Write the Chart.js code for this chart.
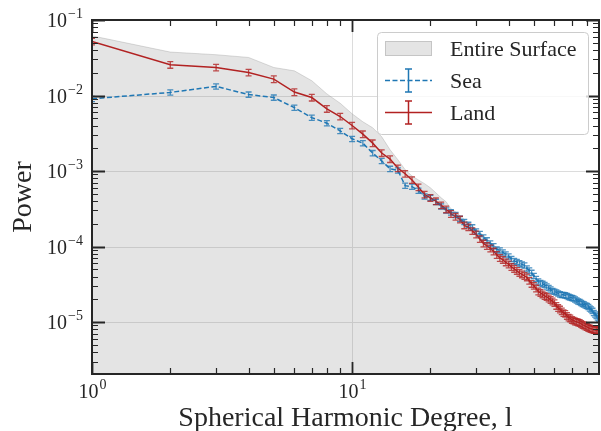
<!DOCTYPE html>
<html>
<head>
<meta charset="utf-8">
<script src="https://cdn.jsdelivr.net/npm/chart.js@4"></script>
<style>
  body { margin: 0; background: #fff; }
  #wrap { width: 601px; height: 431px; }
</style>
</head>
<body>
<div id="wrap"><canvas id="spectrum" width="601" height="431"></canvas></div>
<script>
// spherical harmonic degrees l = 1..89
const degrees = Array.from({ length: 89 }, (_, i) => i + 1);

const landPower = [
    0.0519, 0.0255, 0.0235, 0.0202, 0.0165, 0.0111, 0.0094, 0.00667, 0.00527, 0.00401,
    0.00308, 0.00234, 0.00173, 0.00144, 0.00109, 0.00092, 0.00076, 0.00061, 0.00049,
    4.42e-4, 3.99e-4, 3.53e-4, 3.11e-4, 2.71e-4, 2.49e-4, 2.29e-4, 1.91e-4, 1.80e-4, 1.61e-4,
    1.45e-4, 1.26e-4, 1.10e-4, 1.02e-4, 9.46e-5, 8.63e-5, 7.76e-5, 7.08e-5, 6.67e-5, 6.18e-5,
    5.81e-5, 5.38e-5, 5.07e-5, 4.77e-5, 4.49e-5, 4.29e-5, 4.09e-5, 3.91e-5, 3.52e-5, 3.21e-5,
    3.03e-5, 2.79e-5, 2.55e-5, 2.44e-5, 2.33e-5, 2.22e-5, 2.16e-5, 2.06e-5, 1.97e-5, 1.88e-5,
    1.79e-5, 1.64e-5, 1.54e-5, 1.47e-5, 1.39e-5, 1.32e-5, 1.29e-5, 1.21e-5, 1.15e-5, 1.12e-5,
    1.07e-5, 1.05e-5, 1.02e-5, 1.01e-5, 9.9e-6, 9.75e-6, 9.46e-6, 9.18e-6, 9.04e-6, 8.77e-6,
    8.63e-6, 8.38e-6, 8.25e-6, 8.13e-6, 8.0e-6, 7.88e-6, 7.88e-6, 7.76e-6, 7.88e-6, 7.65e-6
];

const seaPower = [
    0.00904, 0.0110, 0.0132, 0.0103, 0.0094, 0.0069, 0.0051, 0.0043, 0.0034, 0.00267,
    0.00234, 0.00173, 0.00136, 0.00107, 0.00102, 0.00064, 0.00062, 0.00055, 0.00046,
    4.42e-4, 3.91e-4, 3.40e-4, 3.01e-4, 2.84e-4, 2.63e-4, 2.33e-4, 2.12e-4, 1.94e-4, 1.80e-4,
    1.59e-4, 1.47e-4, 1.32e-4, 1.21e-4, 1.10e-4, 1.01e-4, 9.18e-5, 8.91e-5, 8.38e-5, 7.88e-5,
    7.41e-5, 6.87e-5, 6.47e-5, 6.27e-5, 6.0e-5, 5.81e-5, 5.64e-5, 5.14e-5, 4.84e-5, 4.49e-5,
    4.09e-5, 3.73e-5, 3.46e-5, 3.30e-5, 3.21e-5, 3.11e-5, 2.97e-5, 2.84e-5, 2.71e-5, 2.59e-5,
    2.53e-5, 2.47e-5, 2.40e-5, 2.33e-5, 2.29e-5, 2.29e-5, 2.26e-5, 2.22e-5, 2.16e-5, 2.12e-5,
    2.09e-5, 2.06e-5, 2.0e-5, 1.94e-5, 1.88e-5, 1.85e-5, 1.79e-5, 1.74e-5, 1.71e-5, 1.66e-5,
    1.64e-5, 1.59e-5, 1.52e-5, 1.47e-5, 1.41e-5, 1.32e-5, 1.26e-5, 1.21e-5, 1.15e-5, 1.12e-5
];

const surfacePower = [
    0.0617, 0.0376, 0.0347, 0.0319, 0.0235, 0.0212, 0.0157, 0.0105, 0.0079, 0.00573,
    0.00449, 0.00374, 0.00284, 0.00191, 0.00141, 0.00104, 0.00086, 0.00076, 0.00068,
    6.0e-4, 5.14e-4, 4.42e-4, 3.91e-4, 3.16e-4, 2.88e-4, 2.55e-4, 2.29e-4, 2.09e-4, 1.88e-4,
    1.69e-4, 1.54e-4, 1.39e-4, 1.26e-4, 1.15e-4, 1.05e-4, 9.6e-5, 9.04e-5, 8.51e-5, 8.0e-5,
    7.53e-5, 6.87e-5, 6.47e-5, 6.08e-5, 5.73e-5, 5.38e-5, 5.07e-5, 4.77e-5, 4.35e-5, 3.97e-5,
    3.62e-5, 3.30e-5, 3.01e-5, 2.79e-5, 2.63e-5, 2.47e-5, 2.37e-5, 2.22e-5, 2.12e-5, 2.03e-5,
    1.91e-5, 1.79e-5, 1.69e-5, 1.59e-5, 1.49e-5, 1.43e-5, 1.36e-5, 1.30e-5, 1.24e-5, 1.19e-5,
    1.15e-5, 1.12e-5, 1.09e-5, 1.07e-5, 1.05e-5, 1.04e-5, 1.02e-5, 9.9e-6, 9.75e-6, 9.46e-6,
    9.31e-6, 9.18e-6, 9.04e-6, 8.9e-6, 8.9e-6, 8.77e-6, 8.63e-6, 8.63e-6, 8.5e-6, 8.38e-6
];

// relative 1-sigma error on each power estimate
const landRelErr = 0.1;
const seaRelErr = 0.08;

// axis ranges and tick labels (exponents of ten)
const xRange = [1, 89];
const yRange = [2.05e-6, 0.1];
const xTickExp = [0, 1];
const yTickExp = [-1, -2, -3, -4, -5];

const SEA = '#1f77b4';
const LAND = '#b22222';
const FILL = 'rgba(140,140,140,0.23)';
const SERIF = '"Liberation Serif", "Times New Roman", serif';

function pts(vals) {
    return vals.map((v, i) => ({ x: degrees[i], y: v }));
}

function errBars(ctx, chart, vals, rel, color) {
    const xs = chart.scales.x, ys = chart.scales.y;
    ctx.strokeStyle = color;
    ctx.lineWidth = 1.3;
    vals.forEach((v, i) => {
        const px = xs.getPixelForValue(degrees[i]);
        const y0 = ys.getPixelForValue(v * (1 - rel));
        const y1 = ys.getPixelForValue(v * (1 + rel));
        ctx.beginPath();
        ctx.moveTo(px, y0); ctx.lineTo(px, y1);
        ctx.moveTo(px - 3, y0); ctx.lineTo(px + 3, y0);
        ctx.moveTo(px - 3, y1); ctx.lineTo(px + 3, y1);
        ctx.stroke();
    });
}

function logTicks(lo, hi) {
    const out = [];
    for (let e = Math.floor(Math.log10(lo)); e <= Math.ceil(Math.log10(hi)); e++) {
        for (let m = 1; m <= 9; m++) {
            const v = m * Math.pow(10, e);
            if (v >= lo * 0.999 && v <= hi * 1.001) out.push({ v, major: m === 1 });
        }
    }
    return out;
}

function powLabel(ctx, x, y, exp, align) {
    const base = '10', sup = exp < 0 ? '\u2212' + (-exp) : String(exp);
    ctx.font = '20px ' + SERIF;
    const wb = ctx.measureText(base).width;
    ctx.font = '14px ' + SERIF;
    const ws = ctx.measureText(sup).width;
    let left = align === 'right' ? x - wb - ws : x - (wb + ws) / 2;
    ctx.fillStyle = '#262626';
    ctx.textAlign = 'left';
    ctx.textBaseline = 'alphabetic';
    ctx.font = '20px ' + SERIF;
    ctx.fillText(base, left, y);
    ctx.font = '14px ' + SERIF;
    ctx.fillText(sup, left + wb + 1, y - 9);
}

const mplAxes = {
    id: 'mplAxes',
    beforeDatasetsDraw(chart) {
        const { ctx, chartArea: a } = chart;
        const xs = chart.scales.x, ys = chart.scales.y;
        ctx.save();
        ctx.strokeStyle = '#dcdcdc';
        ctx.lineWidth = 1;
        logTicks(xRange[0], xRange[1]).filter(t => t.major).forEach(t => {
            const px = Math.round(xs.getPixelForValue(t.v)) + 0.5;
            ctx.beginPath(); ctx.moveTo(px, a.top); ctx.lineTo(px, a.bottom); ctx.stroke();
        });
        logTicks(yRange[0], yRange[1]).filter(t => t.major).forEach(t => {
            const py = Math.round(ys.getPixelForValue(t.v)) + 0.5;
            ctx.beginPath(); ctx.moveTo(a.left, py); ctx.lineTo(a.right, py); ctx.stroke();
        });
        ctx.restore();
    },
    afterDatasetsDraw(chart) {
        const { ctx, chartArea: a } = chart;
        ctx.save();
        ctx.beginPath();
        ctx.rect(a.left, a.top, a.right - a.left, a.bottom - a.top);
        ctx.clip();
        errBars(ctx, chart, seaPower, seaRelErr, 'rgba(31,119,180,0.8)');
        errBars(ctx, chart, landPower, landRelErr, 'rgba(178,34,34,0.8)');
        ctx.restore();
    },
    afterDraw(chart) {
        const { ctx, chartArea: a } = chart;
        const xs = chart.scales.x, ys = chart.scales.y;
        ctx.save();
        ctx.strokeStyle = '#262626';

        // inward ticks on all four sides
        logTicks(xRange[0], xRange[1]).forEach(t => {
            const px = Math.round(xs.getPixelForValue(t.v)) + 0.5;
            const len = t.major ? 12 : 6;
            ctx.lineWidth = t.major ? 1.8 : 1.2;
            ctx.beginPath();
            ctx.moveTo(px, a.bottom); ctx.lineTo(px, a.bottom - len);
            ctx.moveTo(px, a.top); ctx.lineTo(px, a.top + len);
            ctx.stroke();
        });
        logTicks(yRange[0], yRange[1]).forEach(t => {
            const py = Math.round(ys.getPixelForValue(t.v)) + 0.5;
            const len = t.major ? 13 : 6;
            ctx.lineWidth = t.major ? 2 : 1.2;
            ctx.beginPath();
            ctx.moveTo(a.left, py); ctx.lineTo(a.left + len, py);
            ctx.moveTo(a.right, py); ctx.lineTo(a.right - len, py);
            ctx.stroke();
        });

        // spines
        ctx.lineWidth = 2;
        ctx.strokeRect(a.left, a.top, a.right - a.left, a.bottom - a.top);

        // tick labels
        xTickExp.forEach(e => powLabel(ctx, xs.getPixelForValue(Math.pow(10, e)), a.bottom + 24, e, 'center'));
        yTickExp.forEach(e => powLabel(ctx, a.left - 10, ys.getPixelForValue(Math.pow(10, e)) + 7, e, 'right'));

        // axis titles
        ctx.fillStyle = '#262626';
        ctx.font = '28px ' + SERIF;
        ctx.textAlign = 'center';
        ctx.textBaseline = 'alphabetic';
        ctx.fillText('Spherical Harmonic Degree, l', (a.left + a.right) / 2, 426);
        ctx.save();
        ctx.translate(31, (a.top + a.bottom) / 2);
        ctx.rotate(-Math.PI / 2);
        ctx.fillText('Power', 0, 0);
        ctx.restore();

        // legend
        const lx = 377, ly = 32, lw = 211, lh = 102;
        ctx.beginPath();
        ctx.roundRect(lx + 0.5, ly + 0.5, lw, lh, 4);
        ctx.fillStyle = 'rgba(255,255,255,0.8)';
        ctx.fill();
        ctx.strokeStyle = '#cccccc';
        ctx.lineWidth = 1;
        ctx.stroke();

        ctx.fillStyle = FILL;
        ctx.fillRect(385, 41, 47, 15);
        ctx.strokeStyle = 'rgba(140,140,140,0.35)';
        ctx.strokeRect(385.5, 41.5, 46, 14);

        ctx.lineWidth = 1.5;
        ctx.strokeStyle = SEA;
        ctx.setLineDash([5, 2.5]);
        ctx.beginPath(); ctx.moveTo(385, 80.5); ctx.lineTo(432, 80.5); ctx.stroke();
        ctx.setLineDash([]);
        ctx.beginPath();
        ctx.moveTo(408.5, 69); ctx.lineTo(408.5, 92);
        ctx.moveTo(405, 69); ctx.lineTo(412, 69);
        ctx.moveTo(405, 92); ctx.lineTo(412, 92);
        ctx.stroke();

        ctx.strokeStyle = LAND;
        ctx.beginPath(); ctx.moveTo(385, 112.5); ctx.lineTo(432, 112.5); ctx.stroke();
        ctx.beginPath();
        ctx.moveTo(408.5, 101); ctx.lineTo(408.5, 124);
        ctx.moveTo(405, 101); ctx.lineTo(412, 101);
        ctx.moveTo(405, 124); ctx.lineTo(412, 124);
        ctx.stroke();

        ctx.fillStyle = '#262626';
        ctx.font = '22px ' + SERIF;
        ctx.textAlign = 'left';
        ctx.fillText('Entire Surface', 450, 56);
        ctx.fillText('Sea', 450, 88);
        ctx.fillText('Land', 450, 120);
        ctx.restore();
    }
};

const ctx = document.getElementById('spectrum').getContext('2d');
const spectrumChart = new Chart(ctx, {
    type: 'line',
    data: {
        datasets: [
            {
                label: 'Land',
                data: pts(landPower),
                borderColor: LAND,
                borderWidth: 1.5,
                pointRadius: 0,
                fill: false,
                tension: 0
            },
            {
                label: 'Sea',
                data: pts(seaPower),
                borderColor: SEA,
                borderWidth: 1.5,
                borderDash: [5, 2.5],
                pointRadius: 0,
                fill: false,
                tension: 0
            },
            {
                label: 'Entire Surface',
                data: pts(surfacePower),
                borderColor: 'rgba(140,140,140,0.3)',
                borderWidth: 1,
                backgroundColor: FILL,
                pointRadius: 0,
                fill: 'start',
                tension: 0
            }
        ]
    },
    options: {
        responsive: false,
        animation: false,
        layout: { padding: { left: 92, top: 20, right: 2, bottom: 57 } },
        plugins: {
            legend: { display: false },
            tooltip: { enabled: false }
        },
        scales: {
            x: { type: 'logarithmic', min: xRange[0], max: xRange[1], display: false },
            y: { type: 'logarithmic', min: yRange[0], max: yRange[1], display: false }
        }
    },
    plugins: [mplAxes]
});
</script>
</body>
</html>
